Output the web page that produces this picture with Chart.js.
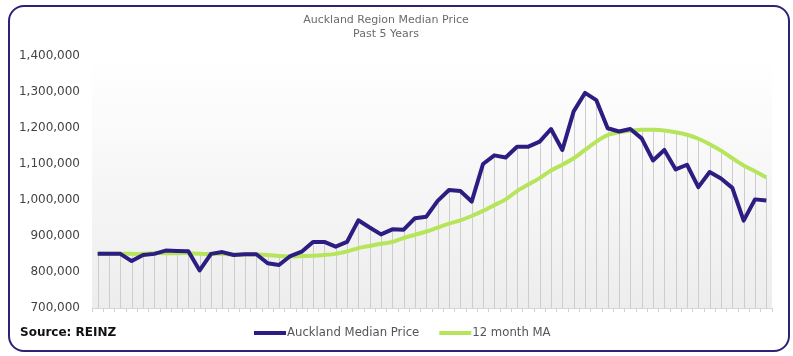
<!DOCTYPE html>
<html>
<head>
<meta charset="utf-8">
<script src="https://cdn.jsdelivr.net/npm/chart.js@4/dist/chart.umd.min.js"></script>
<style>
  html, body { margin: 0; padding: 0; background: #ffffff; }
  #wrap { position: relative; width: 793px; height: 356px; overflow: hidden; }
  #frame { position: absolute; left: 8px; top: 5px; width: 778px; height: 343px;
           border: 2px solid #2d2278; border-radius: 16px; box-sizing: content-box; }
  #src { position: absolute; left: 20px; top: 325px; font: bold 12px "DejaVu Sans", sans-serif; color: #111; }
  canvas { position: absolute; left: 0; top: 0; }
</style>
</head>
<body>
<div id="wrap">
  <div id="frame"></div>
  <canvas id="c" width="793" height="356"></canvas>
  <div id="src">Source: REINZ</div>
</div>
<script>
const months = [
  "Apr-18","May-18","Jun-18","Jul-18","Aug-18","Sep-18","Oct-18","Nov-18","Dec-18",
  "Jan-19","Feb-19","Mar-19","Apr-19","May-19","Jun-19","Jul-19","Aug-19","Sep-19","Oct-19","Nov-19","Dec-19",
  "Jan-20","Feb-20","Mar-20","Apr-20","May-20","Jun-20","Jul-20","Aug-20","Sep-20","Oct-20","Nov-20","Dec-20",
  "Jan-21","Feb-21","Mar-21","Apr-21","May-21","Jun-21","Jul-21","Aug-21","Sep-21","Oct-21","Nov-21","Dec-21",
  "Jan-22","Feb-22","Mar-22","Apr-22","May-22","Jun-22","Jul-22","Aug-22","Sep-22","Oct-22","Nov-22","Dec-22",
  "Jan-23","Feb-23","Mar-23"
];
const medianPrice = [
  850000, 850000, 850000, 830000, 847000, 850000, 859000, 858000, 857000, 804000,
  850000, 855000, 847000, 849000, 849000, 824000, 819000, 844000, 856000, 883000,
  883000, 870000, 883000, 943000, 923000, 904000, 918000, 917000, 949000, 953000,
  997000, 1027000, 1024000, 995000, 1099000, 1123000, 1117000, 1147000, 1147000, 1161000,
  1196000, 1138000, 1245000, 1296000, 1276000, 1198000, 1189000, 1196000, 1170000, 1109000,
  1138000, 1084000, 1097000, 1035000, 1077000, 1059000, 1033000, 942000, 1001000, 998000
];
const movingAvg = [
  850000, 850000, 850000, 850000, 850000, 852000, 852000, 852000, 852000, 850000,
  850000, 850000, 848000, 848000, 848000, 847000, 844000, 843000, 844000, 845000,
  847000, 850000, 857000, 866000, 872000, 878000, 883000, 894000, 903000, 912000,
  923000, 934000, 943000, 955000, 969000, 985000, 1001000, 1024000, 1042000, 1060000,
  1081000, 1097000, 1115000, 1138000, 1161000, 1179000, 1187000, 1191000, 1194000, 1194000,
  1192000, 1187000, 1180000, 1169000, 1154000, 1136000, 1115000, 1095000, 1079000, 1062000
];
const yTicks = [700000, 800000, 900000, 1000000, 1100000, 1200000, 1300000, 1400000];
const titleLines = ["Auckland Region Median Price", "Past 5 Years"];
const seriesNames = ["Auckland Median Price", "12 month MA"];

const FONT = '"DejaVu Sans", sans-serif';

const bgPlugin = {
  id: 'bgGradient',
  beforeDraw(chart) {
    const { ctx, chartArea: a } = chart;
    const g = ctx.createLinearGradient(0, a.top, 0, a.bottom);
    g.addColorStop(0, '#ffffff');
    g.addColorStop(0.3, '#fafafa');
    g.addColorStop(1, '#ededed');
    ctx.save();
    ctx.fillStyle = g;
    ctx.fillRect(a.left, a.top, a.right - a.left, a.bottom - a.top);
    ctx.restore();
  }
};
const dropLines = {
  id: 'dropLines',
  beforeDatasetsDraw(chart) {
    const { ctx, chartArea: a, scales: { x, y } } = chart;
    ctx.save();
    ctx.strokeStyle = '#cdcdcd';
    ctx.lineWidth = 1;
    for (let i = 0; i < months.length; i++) {
      const px = Math.round(x.getPixelForValue(i)) + 0.5;
      const top = Math.min(y.getPixelForValue(medianPrice[i]), y.getPixelForValue(movingAvg[i]));
      ctx.beginPath();
      ctx.moveTo(px, top);
      ctx.lineTo(px, a.bottom);
      ctx.stroke();
    }
    ctx.restore();
  }
};
const customLegend = {
  id: 'customLegend',
  afterDraw(chart) {
    const { ctx } = chart;
    const yMid = 333;
    let xPos = 254;
    ctx.save();
    ctx.font = '11.7px ' + FONT;
    ctx.textBaseline = 'middle';
    ctx.textAlign = 'left';
    chart.data.datasets.forEach((ds, i) => {
      ctx.fillStyle = ds.borderColor;
      ctx.fillRect(xPos, yMid - 2, 32, 4);
      xPos += 33;
      ctx.fillStyle = '#555555';
      ctx.fillText(ds.label, xPos, yMid);
      xPos += ctx.measureText(ds.label).width + 20;
    });
    ctx.restore();
  }
};

new Chart(document.getElementById('c'), {
  type: 'line',
  data: {
    labels: months,
    datasets: [
      { label: seriesNames[0], data: medianPrice, borderColor: '#2b1d82', backgroundColor: '#2b1d82',
        borderWidth: 4, pointRadius: 0, tension: 0, borderJoinStyle: 'round', order: 1 },
      { label: seriesNames[1], data: movingAvg, borderColor: '#b6e55c', backgroundColor: '#b6e55c',
        borderWidth: 4, pointRadius: 0, tension: 0.3, order: 2 }
    ]
  },
  options: {
    responsive: false,
    animation: false,
    devicePixelRatio: 1,
    layout: { padding: { left: 0, right: 21, top: 8, bottom: 44 } },
    plugins: {
      title: { display: true, text: titleLines, color: '#6b6b6b',
               font: { family: FONT, size: 11, weight: 'normal', lineHeight: 1.2 },
               padding: { top: 6, bottom: 15 } },
      legend: { display: false },
      tooltip: { enabled: false }
    },
    scales: {
      x: {
        offset: true,
        afterFit(s) { s.height = 4; },
        grid: { display: true, drawOnChartArea: false, offset: true, tickLength: 4, color: '#d0d0d0' },
        border: { display: true, color: '#d6d6d6' },
        ticks: { display: false }
      },
      y: {
        min: 700000, max: 1400000,
        afterFit(s) { s.width = 92; },
        afterBuildTicks(s) { s.ticks = yTicks.map(v => ({ value: v })); },
        grid: { display: false, drawTicks: false },
        border: { display: false },
        ticks: { padding: 12, color: '#444', font: { family: FONT, size: 12 },
                 callback: v => v.toLocaleString('en-US') }
      }
    }
  },
  plugins: [bgPlugin, dropLines, customLegend]
});
</script>
</body>
</html>
